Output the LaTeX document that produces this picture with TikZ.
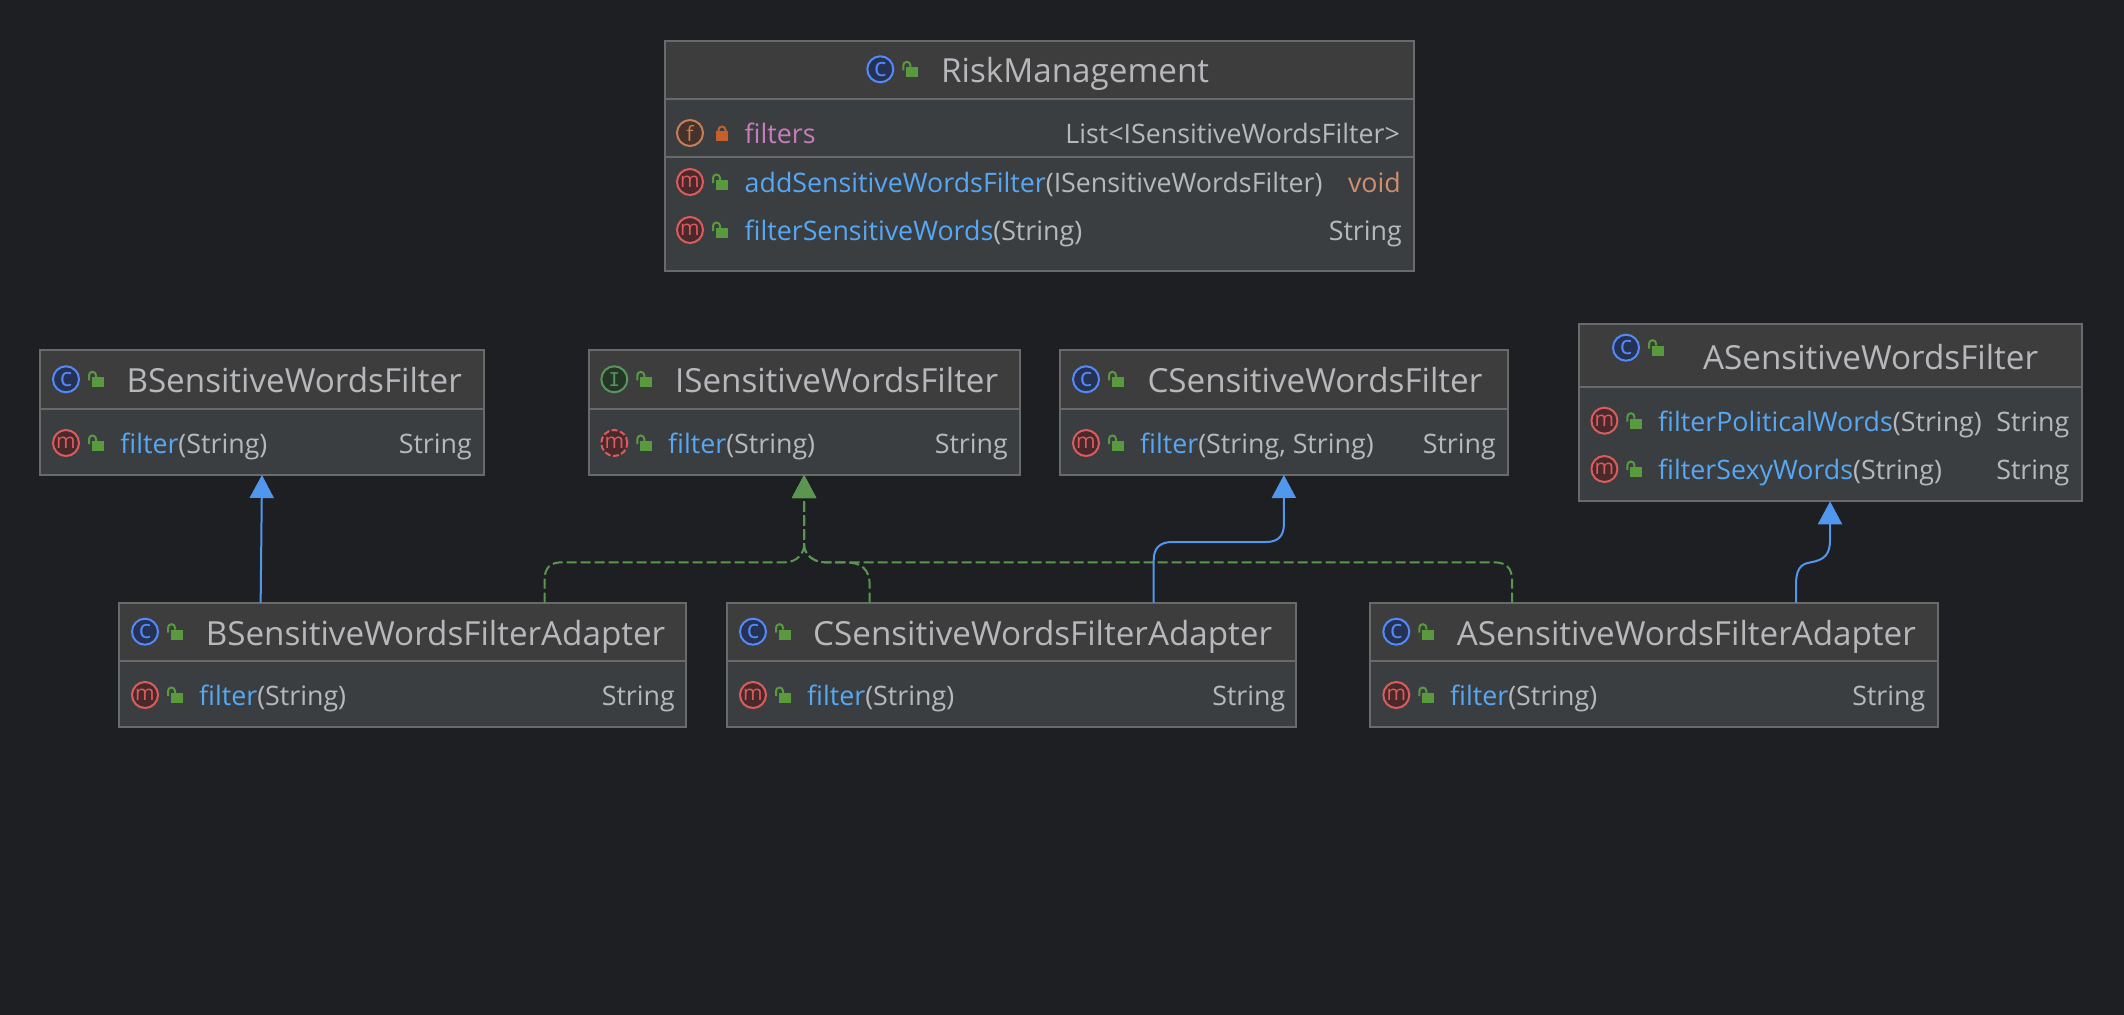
\documentclass[tikz,border=0pt]{standalone}
\usepackage{fontspec}
\setmainfont{Open Sans}
\newfontfamily\iconmono{DejaVu Sans Mono}
\usetikzlibrary{arrows.meta}
\definecolor{canvas}{HTML}{1E1F22}
\definecolor{bodyfill}{HTML}{3B3E41}
\definecolor{headfill}{HTML}{3D3D3D}
\definecolor{edge}{HTML}{696A6B}
\definecolor{plain}{HTML}{B6B8BC}
\definecolor{method}{HTML}{56A8F5}
\definecolor{field}{HTML}{C77DBB}
\definecolor{keyword}{HTML}{CF8E6D}
\definecolor{extendline}{HTML}{5297EE}
\definecolor{implline}{HTML}{5A9650}
\definecolor{lockgreen}{HTML}{5A9A3E}
\definecolor{lockred}{HTML}{C3602B}
\definecolor{classring}{HTML}{548AF7}
\definecolor{classfill}{HTML}{253254}
\definecolor{ifacering}{HTML}{57965C}
\definecolor{ifacefill}{HTML}{253627}
\definecolor{methodring}{HTML}{DB5C5C}
\definecolor{methodfill}{HTML}{49292B}
\definecolor{fieldring}{HTML}{C77D55}
\definecolor{fieldfill}{HTML}{45322B}
\tikzset{
  x=1pt,y=-1pt,
  umlbox/.style={draw=edge,line width=2pt,fill=bodyfill,inner sep=0pt,outer sep=0pt,anchor=north west},
  divider/.style={edge,line width=2pt},
  title/.style={anchor=base west,inner sep=0pt,yshift=-1pt,text=plain,font=\fontsize{33.2}{38}\selectfont},
  member/.style={anchor=base west,inner sep=0pt,yshift=-1pt,text=plain,font=\fontsize{26.8}{31}\selectfont},
  typelabel/.style={member,anchor=base east},
  icon/.style={circle,inner sep=0pt,minimum size=26pt,line width=2pt,font=\fontsize{21}{22}\selectfont},
  iconc/.style={icon,draw=classring,fill=classfill,text=classring,font=\fontsize{26}{26}\selectfont},
  iconi/.style={icon,draw=ifacering,fill=ifacefill,text=ifacering,font=\iconmono\fontsize{19}{20}\selectfont},
  iconm/.style={icon,draw=methodring,fill=methodfill,text=methodring},
  iconam/.style={iconm,dash pattern=on 6pt off 2.5pt},
  iconf/.style={icon,draw=fieldring,fill=fieldfill,text=fieldring},
  extendsline/.style={extendline,line width=2pt,-{Triangle[length=23pt,width=24pt,fill=extendline]}},
  realizes/.style={implline,line width=2pt,dash pattern=on 10pt off 4pt,-{Triangle[length=23pt,width=24pt,fill=implline]}},
}
% box: name, left, top, right, bottom, divider y
\newcommand\umlclass[6]{%
  \node[umlbox,minimum width=#4-#2,minimum height=#5-#3] (#1) at (#2,#3) {};
  \fill[headfill] (#2+1,#3+1) rectangle (#4-1,#6);
  \draw[divider] (#2+1,#6) -- (#4-1,#6);
}
% open padlock beside an icon centred at (x,y)
\newcommand\openlock[2]{%
  \fill[lockgreen] (#1+26,#2-2) rectangle (#1+38,#2+8);
  \draw[lockgreen,line width=2pt] (#1+23,#2+1) -- (#1+23,#2-4) arc[start angle=180,end angle=0,radius=3.5pt] -- (#1+30,#2-2);
}
\newcommand\closedlock[2]{%
  \fill[lockred] (#1+26,#2-2) rectangle (#1+38,#2+8);
  \draw[lockred,line width=2pt] (#1+28.5,#2-2) -- (#1+28.5,#2-3) arc[start angle=180,end angle=0,radius=3.5pt] -- (#1+35.5,#2-2);
}
% member row: name, icon style, letter, icon x, y, text x, text
\newcommand\memberrow[7]{%
  \node[#2] (#1i) at (#4,#5) {#3};
  \openlock{#4}{#5}
  \node[member] (#1t) at (#6,#5+9.7) {#7};
}
\newcommand\mname[1]{{\color{method}#1}}
\begin{document}
\begin{tikzpicture}
\useasboundingbox (0,0) rectangle (2124,1014);
\fill[canvas] (-3,-3) rectangle (2127,1017);

% RiskManagement
\umlclass{risk}{665}{41}{1414}{271}{99}
\draw[divider] (666,157) -- (1413,157);
\node[iconc] (riskicon) at (880.3,69.3) {c};
\openlock{880.3}{69.3}
\node[title] (risktitle) at (941,81.7) {RiskManagement};
\node[iconf] (rf1i) at (690,133) {f};
\closedlock{690}{133}
\node[member,text=field] (rf1t) at (744.5,142.7) {filters};
\node[typelabel] (rf1v) at (1400,142.7) {List<ISensitiveWordsFilter>};
\memberrow{rm1}{iconm}{m}{690}{182}{744.5}{\mname{addSensitiveWordsFilter}(ISensitiveWordsFilter)}
\node[typelabel,text=keyword] (rm1v) at (1401,191.7) {void};
\memberrow{rm2}{iconm}{m}{690}{230}{744.5}{\mname{filterSensitiveWords}(String)}
\node[typelabel] (rm2v) at (1402,239.7) {String};

% BSensitiveWordsFilter
\umlclass{bfilter}{40.4}{350}{483.6}{475}{409}
\node[iconc] (bicon) at (66,379.3) {c};
\openlock{66}{379.3}
\node[title] (btitle) at (126.3,391.7) {BSensitiveWordsFilter};
\memberrow{bm1}{iconm}{m}{66}{443}{120.2}{\mname{filter}(String)}
\node[typelabel] (bm1v) at (472,452.7) {String};

% ISensitiveWordsFilter
\umlclass{ifilter}{588.6}{350}{1019.6}{475}{409}
\node[iconi] (iicon) at (614.3,379.3) {I};
\openlock{614.3}{379.3}
\node[title] (ititle) at (674.8,391.7) {ISensitiveWordsFilter};
\memberrow{im1}{iconam}{m}{614.3}{443}{668}{\mname{filter}(String)}
\node[typelabel] (im1v) at (1008,452.7) {String};

% CSensitiveWordsFilter
\umlclass{cfilter}{1060}{350}{1507.7}{475}{409}
\node[iconc] (cicon) at (1086,379.3) {c};
\openlock{1086}{379.3}
\node[title] (ctitle) at (1147.3,391.7) {CSensitiveWordsFilter};
\memberrow{cm1}{iconm}{m}{1086}{443}{1140}{\mname{filter}(String, String)}
\node[typelabel] (cm1v) at (1496,452.7) {String};

% ASensitiveWordsFilter
\umlclass{afilter}{1578.5}{324.3}{2081.6}{501.3}{387}
\node[iconc] (aicon) at (1626,347.7) {c};
\openlock{1626}{347.7}
\node[title] (atitle) at (1703,368.3) {ASensitiveWordsFilter};
\memberrow{am1}{iconm}{m}{1604.4}{420.7}{1658}{\mname{filterPoliticalWords}(String)}
\node[typelabel] (am1v) at (2069.5,430.4) {String};
\memberrow{am2}{iconm}{m}{1604.4}{469}{1658}{\mname{filterSexyWords}(String)}
\node[typelabel] (am2v) at (2069.5,478.7) {String};

% Adapters
\umlclass{badapter}{119.3}{602.7}{686}{727.3}{661}
\node[iconc] (baicon) at (145,631.7) {c};
\openlock{145}{631.7}
\node[title] (batitle) at (205.6,644) {BSensitiveWordsFilterAdapter};
\memberrow{bam1}{iconm}{m}{145}{695}{199}{\mname{filter}(String)}
\node[typelabel] (bam1v) at (675,704.7) {String};

\umlclass{cadapter}{727.4}{602.7}{1296}{727.3}{661}
\node[iconc] (caicon) at (753,631.7) {c};
\openlock{753}{631.7}
\node[title] (catitle) at (813,644) {CSensitiveWordsFilterAdapter};
\memberrow{cam1}{iconm}{m}{753}{695}{807}{\mname{filter}(String)}
\node[typelabel] (cam1v) at (1285.5,704.7) {String};

\umlclass{aadapter}{1370.4}{602.7}{1937.6}{727.3}{661}
\node[iconc] (aaicon) at (1396.3,631.7) {c};
\openlock{1396.3}{631.7}
\node[title] (aatitle) at (1456.7,644) {ASensitiveWordsFilterAdapter};
\memberrow{aam1}{iconm}{m}{1396.3}{695}{1450}{\mname{filter}(String)}
\node[typelabel] (aam1v) at (1925.5,704.7) {String};

% Attachment points along the top edges of the adapters
\coordinate (bxl) at ([xshift=-142pt]badapter.north);
\coordinate (bxr) at ([xshift=142pt]badapter.north);
\coordinate (cxl) at ([xshift=-142pt]cadapter.north);
\coordinate (cxr) at ([xshift=142pt]cadapter.north);
\coordinate (axl) at ([xshift=-142pt]aadapter.north);
\coordinate (axr) at ([xshift=142pt]aadapter.north);

% Realization edges towards the interface
\draw[realizes] (bxr) -- (544.6,580) .. controls (544.6,568) and (550,562.3) .. (562,562.3) -- (785,562.3) .. controls (797,562.3) and (804.1,553) .. (804.1,545) -- (ifilter.south);
\draw[realizes] (cxl) -- (869.7,585) .. controls (869.7,570) and (862,562.3) .. (845,562.3) -- (825,562.3) .. controls (812,562.3) and (804.1,553) .. (804.1,545) -- (ifilter.south);
\draw[realizes] (axl) -- (1512,580) .. controls (1512,568) and (1506,562.3) .. (1494,562.3) -- (825,562.3) .. controls (812,562.3) and (804.1,553) .. (804.1,545) -- (ifilter.south);

% Inheritance edges
\draw[extendsline] (bxl) -- (bfilter.south);
\draw[extendsline] (cxr) -- (1153.7,560) .. controls (1153.7,548) and (1160,542) .. (1172,542) -- (1266,542) .. controls (1278,542) and (1283.9,536) .. (1283.9,524) -- (cfilter.south);
\draw[extendsline] (axr) -- (1796,585) .. controls (1796,570) and (1800,564) .. (1810,562.5) .. controls (1824,560) and (1830,555) .. (1830,540) -- (afilter.south);
\end{tikzpicture}
\end{document}
